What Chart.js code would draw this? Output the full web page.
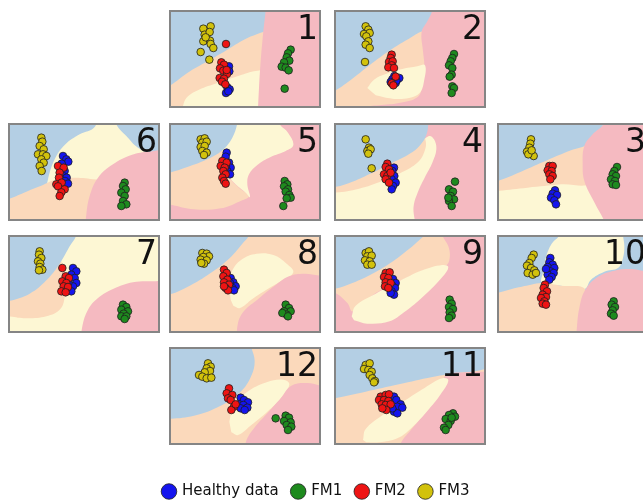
<!DOCTYPE html>
<html>
<head>
<meta charset="utf-8">
<script src="https://cdn.jsdelivr.net/npm/chart.js@4.4.0/dist/chart.umd.min.js"></script>
<style>
  html, body { margin: 0; padding: 0; background: #fff; width: 643px; height: 503px; overflow: hidden; position: relative; }
  .panel { position: absolute; width: 152px; height: 98px; box-sizing: border-box; border: 2px solid #858585; }
  .panel canvas { display: block; }
  #legend { position: absolute; left: 0; top: 470px; }
</style>
</head>
<body>
<canvas id="legend" width="633" height="90"></canvas>
<script>
// Class names and marker colours
const seriesNames = ['Healthy data', 'FM1', 'FM2', 'FM3'];
const seriesColors = ['#1414ee', '#1e8a1e', '#ee1414', '#d2c20c'];
// Pastel fill used for each class decision region
const zoneColors = { Healthy: '#fdf7d4', FM1: '#f5bac1', FM2: '#fbd9bb', FM3: '#b4cfe4' };

// ---- Projection 1 ----
const p1Healthy = [[185,175],[186,190],[180,238],[187,244],[176,255],[183,250]];
const p1FM1 = [[370,125],[362,136],[358,148],[366,158],[350,163],[343,176],[355,179],[364,187],[352,242]];
const p1FM2 = [[176,108],[162,163],[170,170],[158,181],[168,188],[179,198],[157,210],[170,212],[164,221],[174,229],[178,186]];
const p1FM3 = [[108,62],[130,55],[112,80],[127,72],[118,92],[108,100],[128,98],[130,108],[138,120],[100,132],[126,155],[115,88]];
const p1Zones = [
  ['FM2', [[-40,255],[5,235],[60,195],[120,160],[180,125],[230,95],[270,78],[300,68],[340,60],[340,340],[-40,340]]],
  ['Healthy', [[40,340],[48,290],[62,265],[95,245],[150,225],[210,205],[260,190],[300,185],[340,185],[340,340]]],
  ['FM1', [[298,-40],[295,6],[287,80],[280,160],[275,240],[272,300],[270,340],[500,340],[500,-40]]]
];

// ---- Projection 2 ----
const p2Healthy = [[186,204],[196,214],[180,214],[201,210],[190,225],[175,222],[192,218]];
const p2FM1 = [[365,138],[360,150],[355,160],[350,172],[360,180],[358,200],[352,206],[360,235],[365,240],[358,255]];
const p2FM2 = [[178,140],[175,150],[170,162],[181,160],[178,172],[168,178],[185,180],[190,206],[178,226],[183,232]];
const p2FM3 = [[100,55],[108,65],[95,78],[112,75],[102,85],[108,100],[100,110],[112,120],[98,162]];
const p2Zones = [
  ['FM2', [[-40,270],[5,250],[60,212],[120,165],[180,122],[230,92],[270,70],[320,60],[320,340],[-40,340]]],
  ['FM1', [[302,-40],[300,6],[285,40],[268,72],[272,130],[276,175],[270,235],[255,268],[200,285],[140,292],[100,300],[80,340],[500,340],[500,-40]]],
  ['Healthy', [[105,240],[125,215],[160,198],[210,183],[255,175],[278,172],[275,220],[262,255],[230,270],[180,272],[130,262]]]
];

// ---- Projection 6 ----
const p6Healthy = [[170,105],[180,115],[186,122],[166,128],[175,150],[170,165],[181,170],[176,180],[185,188]];
const p6FM1 = [[355,185],[350,195],[358,205],[345,215],[355,225],[350,240],[360,250],[345,255]];
const p6FM2 = [[155,135],[172,140],[160,155],[158,170],[150,190],[166,185],[155,196],[175,205],[165,214],[160,225]];
const p6FM3 = [[105,50],[108,62],[100,75],[112,85],[95,100],[110,100],[120,105],[105,115],[112,125],[100,135],[106,150]];
const p6Zones = [
  ['Healthy', [[110,260],[125,175],[145,115],[175,72],[220,40],[265,18],[285,-40],[315,-40],[330,10],[360,45],[395,80],[440,100],[500,110],[500,340],[110,340]]],
  ['FM2', [[-40,250],[5,235],[60,212],[110,192],[150,175],[200,170],[260,175],[320,190],[320,340],[-40,340]]],
  ['FM1', [[235,340],[240,280],[250,225],[275,170],[320,130],[375,102],[430,92],[500,95],[500,340]]]
];

// ---- Projection 5 ----
const p5Healthy = [[178,95],[175,107],[185,125],[190,140],[180,150],[188,160],[176,135]];
const p5FM1 = [[352,180],[360,190],[350,196],[362,205],[355,212],[366,222],[370,230],[358,232],[348,255]];
const p5FM2 = [[165,120],[178,125],[160,135],[172,140],[168,150],[175,160],[165,170],[170,180],[175,188]];
const p5FM3 = [[100,55],[112,52],[105,65],[118,62],[100,78],[112,75],[105,90],[118,95],[110,102]];
const p5Zones = [
  ['FM2', [[-40,100],[160,80],[168,100],[172,140],[190,175],[220,205],[245,225],[215,242],[160,262],[80,265],[5,250],[-40,245]]],
  ['Healthy', [[190,-40],[205,10],[185,55],[165,92],[168,120],[178,155],[200,185],[235,215],[248,228],[240,190],[245,160],[270,132],[310,108],[355,90],[378,72],[362,35],[335,6],[330,-40]]],
  ['FM3', [[-40,160],[5,155],[60,138],[120,115],[165,88],[195,50],[210,6],[214,-40],[-40,-40]]]
];

// ---- Projection 4 ----
const p4Healthy = [[185,140],[180,150],[186,165],[178,175],[190,185],[182,195],[178,205]];
const p4FM1 = [[368,182],[350,205],[362,212],[355,225],[365,235],[350,240],[358,255],[348,230]];
const p4FM2 = [[165,128],[160,138],[170,145],[155,160],[165,165],[175,155],[160,175],[170,185]];
const p4FM3 = [[100,55],[110,80],[105,90],[115,85],[108,98],[118,142]];
const p4Zones = [
  ['Healthy', [[-40,180],[100,150],[200,110],[260,70],[290,45],[305,55],[312,85],[300,125],[278,168],[258,210],[244,255],[238,340],[-40,340]]],
  ['FM2', [[-40,150],[-40,210],[5,215],[80,203],[150,180],[210,153],[255,125],[275,95],[280,60],[260,30],[100,60]]],
  ['FM3', [[-40,195],[5,198],[60,182],[120,155],[180,125],[232,98],[262,74],[282,42],[288,6],[290,-40],[-40,-40]]]
];

// ---- Projection 3 ----
const p3Healthy = [[182,208],[175,218],[188,222],[170,230],[180,238],[185,250]];
const p3FM1 = [[368,138],[360,150],[355,160],[365,165],[350,175],[362,180],[355,190],[365,192]];
const p3FM2 = [[165,135],[175,135],[160,148],[172,150],[165,160],[175,165],[168,175]];
const p3FM3 = [[110,55],[108,68],[105,80],[98,92],[110,95],[118,105],[102,100],[112,88]];
const p3Zones = [
  ['FM2', [[-40,215],[8,210],[100,200],[200,190],[290,180],[290,-40],[-40,-40]]],
  ['FM3', [[-40,185],[8,180],[80,152],[160,117],[230,88],[275,72],[300,40],[330,6],[335,-40],[-40,-40]]],
  ['FM1', [[335,-40],[330,6],[295,40],[270,75],[265,130],[270,180],[298,240],[330,300],[345,340],[500,340],[500,-40]]]
];

// ---- Projection 7 ----
const p7Healthy = [[200,105],[210,115],[195,125],[205,135],[210,150],[200,160],[195,175],[186,150]];
const p7FM1 = [[350,215],[360,222],[345,230],[365,235],[352,242],[345,250],[360,250],[355,258]];
const p7FM2 = [[168,105],[178,130],[188,135],[168,145],[180,150],[172,160],[185,162],[165,175],[178,178]];
const p7FM3 = [[100,55],[98,65],[105,75],[95,85],[102,92],[100,102],[108,110],[98,112]];
const p7Zones = [
  ['FM2', [[-40,100],[150,60],[168,95],[178,135],[176,185],[162,228],[120,250],[60,256],[5,250],[-40,248]]],
  ['FM3', [[-40,210],[5,205],[70,182],[120,142],[160,92],[190,40],[210,6],[214,-40],[-40,-40]]],
  ['FM1', [[222,340],[228,280],[245,230],[275,195],[320,168],[380,148],[440,145],[500,150],[500,340]]]
];

// ---- Projection 8 ----
const p8Healthy = [[190,135],[198,148],[205,160],[195,165],[200,172],[188,150]];
const p8FM1 = [[355,215],[365,225],[350,235],[370,235],[358,245],[345,240],[362,250]];
const p8FM2 = [[170,110],[178,120],[168,130],[180,140],[170,148],[185,155],[175,165],[182,172],[170,160]];
const p8FM3 = [[105,60],[118,62],[125,70],[108,72],[100,80],[118,82],[110,92],[102,90]];
const p8Zones = [
  ['FM3', [[-40,188],[5,185],[60,162],[120,127],[180,82],[225,32],[245,6],[250,-40],[-40,-40]]],
  ['Healthy', [[190,200],[186,150],[195,112],[222,80],[268,62],[318,66],[358,92],[378,118],[340,145],[295,172],[255,198],[218,225],[198,218]]],
  ['FM1', [[208,340],[212,270],[232,232],[270,200],[320,160],[365,130],[410,122],[462,128],[500,130],[500,340]]]
];

// ---- Projection 9 ----
const p9Healthy = [[182,138],[190,150],[180,158],[188,165],[178,175],[185,185],[175,180]];
const p9FM1 = [[352,200],[358,212],[350,222],[362,228],[352,238],[358,248],[350,255]];
const p9FM2 = [[160,120],[172,118],[155,132],[168,135],[160,148],[175,150],[158,160],[168,165]];
const p9FM3 = [[100,60],[110,55],[105,70],[118,68],[98,82],[112,85],[105,95],[118,95]];
const p9Zones = [
  ['FM2', [[-40,175],[5,178],[45,210],[62,235],[130,180],[210,140],[280,110],[340,98],[352,75],[348,40],[330,6],[325,-40],[-40,-40]]],
  ['FM3', [[-40,170],[5,168],[60,150],[120,122],[180,86],[230,48],[262,20],[275,6],[278,-40],[-40,-40]]],
  ['Healthy', [[58,250],[70,218],[130,182],[200,145],[270,112],[330,96],[348,102],[330,132],[275,188],[215,238],[172,265],[105,272],[65,262]]]
];

// ---- Projection 10 ----
const p10Healthy = [[168,75],[165,88],[175,95],[160,102],[180,105],[168,115],[178,120],[160,125],[172,132],[165,140],[155,108]];
const p10FM1 = [[358,205],[352,215],[362,222],[355,232],[350,242],[358,248]];
const p10FM2 = [[152,155],[148,165],[158,175],[145,185],[155,192],[140,195],[150,205],[145,212],[155,215]];
const p10FM3 = [[118,65],[112,75],[105,90],[98,98],[110,105],[120,112],[100,120],[115,125],[125,120]];
const p10Zones = [
  ['Healthy', [[200,-40],[195,6],[172,32],[155,72],[148,112],[143,150],[200,158],[270,168],[290,140],[330,116],[372,104],[386,75],[390,40],[386,6],[385,-40]]],
  ['FM2', [[-40,185],[8,180],[60,166],[110,155],[145,150],[200,158],[272,168],[258,230],[248,300],[246,340],[-40,340]]],
  ['FM1', [[244,340],[248,280],[255,225],[272,172],[310,132],[360,113],[410,108],[450,114],[500,120],[500,340]]]
];

// ---- Projection 12 ----
const p12Healthy = [[220,158],[230,165],[242,172],[215,178],[228,180],[240,188],[220,190],[232,195]];
const p12FM1 = [[325,220],[355,212],[365,218],[350,228],[370,232],[358,240],[372,245],[362,255]];
const p12FM2 = [[185,130],[178,145],[195,150],[182,160],[190,165],[200,185],[192,195],[205,178]];
const p12FM3 = [[122,55],[130,65],[118,70],[128,78],[112,82],[95,90],[105,95],[118,100],[132,98]];
const p12Zones = [
  ['FM3', [[-40,225],[5,222],[80,212],[160,182],[220,140],[252,92],[262,48],[252,6],[245,-40],[-40,-40]]],
  ['Healthy', [[186,230],[198,185],[238,142],[298,112],[348,104],[366,118],[342,158],[300,200],[252,240],[212,270],[192,262]]],
  ['FM1', [[228,340],[236,290],[260,250],[300,205],[340,160],[372,122],[420,114],[462,122],[500,126],[500,340]]]
];

// ---- Projection 11 ----
const p11Healthy = [[185,155],[192,165],[205,178],[195,185],[210,188],[185,200],[195,205],[180,190]];
const p11FM1 = [[362,205],[350,210],[368,215],[340,222],[355,228],[348,240],[335,248],[340,255],[358,218]];
const p11FM2 = [[145,155],[160,150],[170,148],[140,165],[155,165],[168,168],[148,178],[160,180],[175,178],[162,195],[150,190]];
const p11FM3 = [[100,60],[112,55],[95,72],[108,75],[118,80],[112,90],[120,100],[128,108],[125,112]];
const p11Zones = [
  ['FM2', [[-40,165],[5,160],[100,140],[200,118],[300,96],[360,86],[420,80],[500,78],[500,340],[-40,340]]],
  ['FM1', [[190,340],[205,295],[240,250],[280,200],[312,148],[332,105],[345,88],[400,82],[462,80],[500,80],[500,340]]],
  ['Healthy', [[92,285],[100,252],[148,212],[215,168],[278,128],[330,100],[348,106],[325,148],[285,198],[238,248],[195,280],[140,292],[102,292]]]
];

// Layout of the small multiples
const XR = [11, 455];
const XR_EDGE = [14, 458];
const panels = [
  { label: '1',  left: 169, top: 10,  xr: XR, base: 'FM3', zones: p1Zones,  series: [p1Healthy, p1FM1, p1FM2, p1FM3] },
  { label: '2',  left: 334, top: 10,  xr: XR, base: 'FM3', zones: p2Zones,  series: [p2Healthy, p2FM1, p2FM2, p2FM3] },
  { label: '6',  left: 8,   top: 123, xr: XR, base: 'FM3', zones: p6Zones,  series: [p6Healthy, p6FM1, p6FM2, p6FM3] },
  { label: '5',  left: 169, top: 123, xr: XR, base: 'FM1', zones: p5Zones,  series: [p5Healthy, p5FM1, p5FM2, p5FM3] },
  { label: '4',  left: 334, top: 123, xr: XR, base: 'FM1', zones: p4Zones,  series: [p4Healthy, p4FM1, p4FM2, p4FM3] },
  { label: '3',  left: 497, top: 123, xr: XR_EDGE, base: 'Healthy', zones: p3Zones, series: [p3Healthy, p3FM1, p3FM2, p3FM3] },
  { label: '7',  left: 8,   top: 235, xr: XR, base: 'Healthy', zones: p7Zones, series: [p7Healthy, p7FM1, p7FM2, p7FM3] },
  { label: '8',  left: 169, top: 235, xr: XR, base: 'FM2', zones: p8Zones,  series: [p8Healthy, p8FM1, p8FM2, p8FM3] },
  { label: '9',  left: 334, top: 235, xr: XR, base: 'FM1', zones: p9Zones,  series: [p9Healthy, p9FM1, p9FM2, p9FM3] },
  { label: '10', left: 497, top: 235, xr: XR_EDGE, base: 'FM3', zones: p10Zones, series: [p10Healthy, p10FM1, p10FM2, p10FM3] },
  { label: '12', left: 169, top: 347, xr: XR, base: 'FM2', zones: p12Zones, series: [p12Healthy, p12FM1, p12FM2, p12FM3] },
  { label: '11', left: 334, top: 347, xr: XR, base: 'FM3', zones: p11Zones, series: [p11Healthy, p11FM1, p11FM2, p11FM3] }
];

// Big projection number in the top-right corner of each panel
const panelLabel = {
  id: 'panelLabel',
  afterDraw(chart, args, opts) {
    const { ctx, chartArea } = chart;
    ctx.save();
    ctx.font = '33px "DejaVu Sans"';
    ctx.fillStyle = '#111';
    ctx.textAlign = 'right';
    ctx.textBaseline = 'alphabetic';
    ctx.fillText(opts.text, chartArea.right - 1, chartArea.top + 27);
    ctx.restore();
  }
};

const toXY = pts => pts.map(([x, y]) => ({ x, y }));
// red markers sit on top of the blue ones
const markerOrder = [1, 2, 0, 3];

function makePanel(p) {
  const box = document.createElement('div');
  box.className = 'panel';
  box.style.left = p.left + 'px';
  box.style.top = p.top + 'px';
  box.style.background = zoneColors[p.base];
  const cv = document.createElement('canvas');
  cv.width = 148; cv.height = 94;
  box.appendChild(cv);
  document.body.appendChild(box);

  const datasets = [];
  p.zones.forEach(([cls, pts], i) => {
    datasets.push({
      type: 'line',
      label: 'region ' + cls,
      data: toXY(pts),
      fill: 'shape',
      backgroundColor: zoneColors[cls],
      borderColor: 'rgba(0,0,0,0)',
      borderWidth: 0,
      pointRadius: 0,
      tension: 0.4,
      order: 100 - i
    });
  });
  p.series.forEach((pts, k) => {
    datasets.push({
      label: seriesNames[k],
      data: toXY(pts),
      showLine: false,
      pointRadius: 3.8,
      pointBackgroundColor: seriesColors[k],
      pointBorderColor: '#1e1e1e',
      pointBorderWidth: 0.8,
      order: markerOrder[k]
    });
  });

  new Chart(cv, {
    type: 'scatter',
    data: { datasets },
    options: {
      responsive: false,
      animation: false,
      events: [],
      layout: { padding: 0, autoPadding: false },
      elements: { line: { capBezierPoints: false } },
      scales: {
        x: { type: 'linear', display: false, min: p.xr[0], max: p.xr[1] },
        y: { type: 'linear', display: false, min: 12, max: 294, reverse: true }
      },
      plugins: {
        legend: { display: false },
        tooltip: { enabled: false },
        panelLabel: { text: p.label }
      }
    },
    plugins: [panelLabel]
  });
}

panels.forEach(makePanel);

// Shared legend along the bottom
new Chart(document.getElementById('legend'), {
  type: 'scatter',
  data: {
    datasets: seriesNames.map((name, k) => ({
      label: name,
      data: [],
      backgroundColor: seriesColors[k],
      pointBackgroundColor: seriesColors[k],
      borderColor: '#1e1e1e',
      pointBorderColor: '#1e1e1e',
      borderWidth: 0.8,
      pointStyle: 'circle'
    }))
  },
  options: {
    responsive: false,
    animation: false,
    events: [],
    layout: { padding: 0, autoPadding: false },
    scales: { x: { display: false }, y: { display: false } },
    plugins: {
      tooltip: { enabled: false },
      legend: {
        display: true,
        position: 'top',
        labels: {
          usePointStyle: true,
          pointStyle: 'circle',
          boxWidth: 11,
          boxHeight: 11,
          padding: 14,
          color: '#111',
          font: { family: 'DejaVu Sans', size: 15 }
        }
      }
    }
  }
});
</script>
</body>
</html>
